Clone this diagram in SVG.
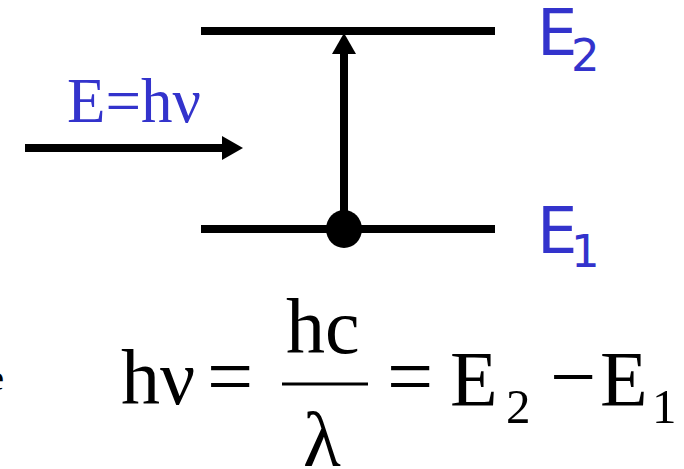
<svg xmlns="http://www.w3.org/2000/svg" width="684" height="469" viewBox="0 0 684 469">
  <defs>
    <style>
      .lvl { stroke: #000; stroke-width: 8; fill: none; }
      .conn { stroke: #000; stroke-width: 8; fill: none; }
      .lbl { font-family: "DejaVu Sans", Verdana, sans-serif; fill: #3333CC; }
      .ser { font-family: "Liberation Serif", "Times New Roman", serif; fill: #000; }
      .blue { fill: #3333CC; }
    </style>
    <marker id="ah" markerUnits="userSpaceOnUse" markerWidth="22" markerHeight="24" refX="0" refY="12" orient="auto" viewBox="0 0 22 24">
      <path d="M0,0 L21,12 L0,24 Z" fill="#000"/>
    </marker>
  </defs>
  <rect width="684" height="469" fill="#fff"/>

  <g id="level-E2">
    <line class="lvl" x1="201" y1="31" x2="495" y2="31"/>
    <text class="lbl" x="537" y="55" font-size="64">E</text>
    <text class="lbl" x="571" y="71" font-size="45">2</text>
  </g>

  <g id="level-E1">
    <line class="lvl" x1="201" y1="229" x2="495" y2="229"/>
    <text class="lbl" x="537" y="253" font-size="64">E</text>
    <text class="lbl" x="571" y="267" font-size="45">1</text>
  </g>

  <g id="photon-label">
    <text class="ser blue" x="67" y="122" font-size="64" textLength="134" lengthAdjust="spacingAndGlyphs">E=hν</text>
  </g>

  <g id="connectors">
    <line class="conn" x1="25" y1="148" x2="222" y2="148" marker-end="url(#ah)"/>
    <line class="conn" x1="344" y1="229" x2="344" y2="54" marker-end="url(#ah)"/>
  </g>

  <g id="electron">
    <ellipse cx="344" cy="229" rx="18" ry="19" fill="#000"/>
  </g>

  <g id="equation">
    <text class="ser" x="-12" y="390" font-size="36">e</text>
    <text class="ser" x="121" y="404" font-size="78">hν</text>
    <text class="ser" x="207" y="404" font-size="82">=</text>
    <text class="ser" x="286" y="353" font-size="78">hc</text>
    <line x1="282" y1="384" x2="368" y2="384" stroke="#000" stroke-width="3"/>
    <text class="ser" x="303" y="466" font-size="78">λ</text>
    <text class="ser" x="387" y="404" font-size="82">=</text>
    <text class="ser" x="450" y="405" font-size="78">E</text>
    <text class="ser" x="506" y="423" font-size="49">2</text>
    <text class="ser" x="550" y="404" font-size="82">−</text>
    <text class="ser" x="600" y="405" font-size="78">E</text>
    <text class="ser" x="652" y="423" font-size="49">1</text>
  </g>
</svg>
